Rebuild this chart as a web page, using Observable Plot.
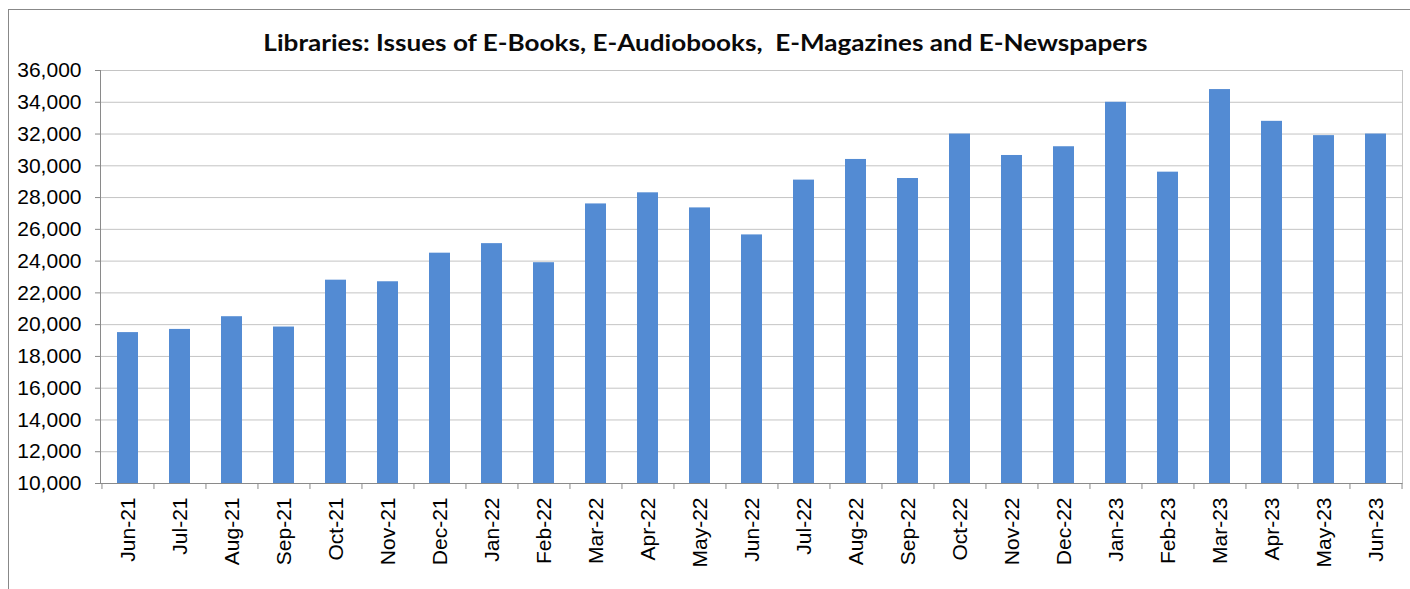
<!DOCTYPE html>
<html>
<head>
<meta charset="utf-8">
<script src="https://cdn.jsdelivr.net/npm/d3@7"></script>
<script src="https://cdn.jsdelivr.net/npm/@observablehq/plot@0.6"></script>
<style>
  html, body { margin: 0; padding: 0; background: #fff; }
  #wrap { position: relative; width: 1410px; height: 589px; overflow: hidden; background: #fff; }
  #border { position: absolute; left: 8px; top: 9px; width: 1410px; height: 700px; border: 1px solid #888; box-sizing: border-box; }
  #title { position: absolute; left: 0; width: 1410px; top: 31px; text-align: center; white-space: pre;
           font-family: Lato, "Open Sans", sans-serif; font-weight: bold; font-size: 23px; line-height: 1; color: #0a0a0a; }
  #title span { display: inline-block; transform-origin: center; }
  #chart { position: absolute; left: 0; top: 0; }
</style>
</head>
<body>
<div id="wrap">
  <div id="border"></div>
  <div id="title"><span id="tt">Libraries: Issues of E-Books, E-Audiobooks,  E-Magazines and E-Newspapers</span></div>
  <div id="chart"></div>
</div>
<script>
const months = ["Jun-21","Jul-21","Aug-21","Sep-21","Oct-21","Nov-21","Dec-21","Jan-22","Feb-22","Mar-22","Apr-22","May-22","Jun-22","Jul-22","Aug-22","Sep-22","Oct-22","Nov-22","Dec-22","Jan-23","Feb-23","Mar-23","Apr-23","May-23","Jun-23"];
const issues = [19500,19700,20500,19850,22800,22700,24500,25100,23900,27600,28300,27350,25650,29100,30400,29200,32000,30650,31200,34000,29600,34800,32800,31900,32000];
const yTicks = [10000,12000,14000,16000,18000,20000,22000,24000,26000,28000,30000,32000,34000,36000];

const W = 1410, H = 589, mL = 100, mR = 8, mT = 70, mB = 106;
const step = (W - mL - mR) / months.length;
const axisColor = "#8a8a8a";
const gridColor = "#c4c4c4";

const chart = Plot.plot({
  width: W, height: H,
  marginTop: mT, marginBottom: mB, marginLeft: mL, marginRight: mR,
  style: { fontFamily: "'Liberation Sans', Arial, sans-serif", fontSize: "21px", color: "#000", background: "transparent" },
  x: { domain: months, paddingInner: 0.6, paddingOuter: 0.3, label: null },
  y: { domain: [10000, 36000], label: null },
  marks: [
    Plot.gridY(yTicks, { stroke: gridColor, strokeOpacity: 1 }),
    Plot.frame({ stroke: gridColor }),
    Plot.barY(issues, { x: (d, i) => months[i], y1: 10000, y2: d => d, fill: "#538bd3" }),
    Plot.ruleY([10000], { stroke: axisColor }),
    Plot.frame({ anchor: "left", stroke: axisColor }),
    Plot.axisY(yTicks, { tickSize: 5, tickPadding: 14, tickFormat: d3.format(","), stroke: axisColor, label: null }),
    Plot.axisX({ tickSize: 0, tickPadding: 14, tickRotate: -90, label: null }),
    Plot.axisX({ tickSize: 6, tickFormat: () => "", dx: -step / 2, stroke: axisColor, label: null }),
    Plot.axisX([months[months.length - 1]], { tickSize: 6, tickFormat: () => "", dx: step / 2, stroke: axisColor, label: null })
  ]
});
document.getElementById("chart").appendChild(chart);

// fit title width to the reference span
const tt = document.getElementById("tt");
const w = tt.getBoundingClientRect().width;
tt.style.transform = `scaleX(${884 / w})`;
</script>
</body>
</html>
